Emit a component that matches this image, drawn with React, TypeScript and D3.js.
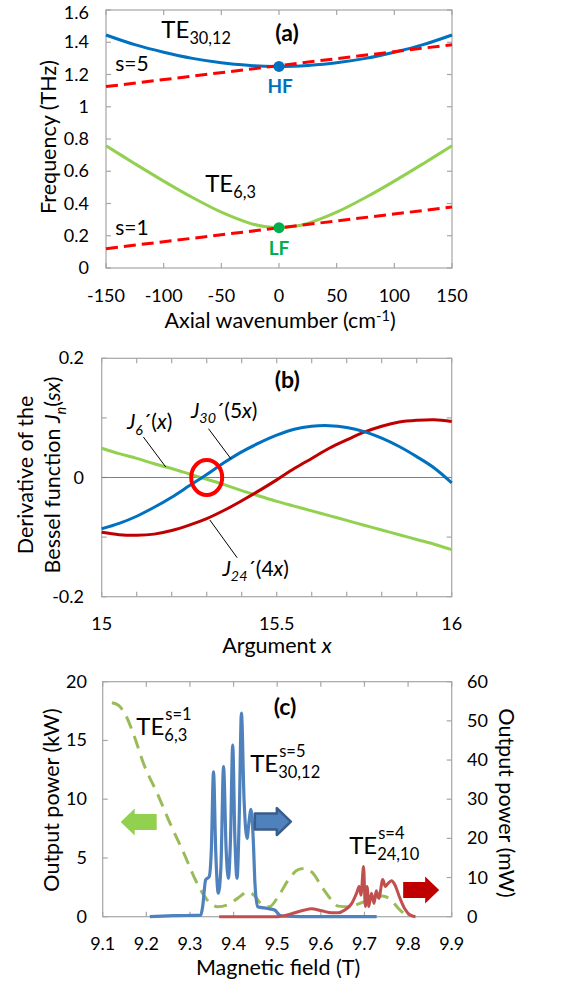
import * as d3 from 'd3';
import { useEffect, useRef } from 'react';

const FONT = 'Lato, "Open Sans", sans-serif';

// (a) dispersion diagram
const wavenumbers = [-150, -125, -100, -75, -50, -25, -12.5, 0, 12.5, 25, 50, 75, 100, 125, 150];
const te3012Freq = [1.445, 1.385, 1.338, 1.3, 1.273, 1.256, 1.251, 1.25, 1.251, 1.256, 1.273, 1.3, 1.338, 1.385, 1.445];
const te63Freq = [0.758, 0.647, 0.539, 0.437, 0.346, 0.277, 0.257, 0.25, 0.257, 0.277, 0.346, 0.437, 0.539, 0.647, 0.758];
const beamK = [-150, 0, 150];
const beamS5 = [1.125, 1.255, 1.385];
const beamS1 = [0.12, 0.249, 0.378];
const freqTicks = [0, 0.2, 0.4, 0.6, 0.8, 1, 1.2, 1.4, 1.6];
const kTicks = [-150, -100, -50, 0, 50, 100, 150];

// (b) Bessel derivatives
const argX = [15, 15.05, 15.1, 15.15, 15.2, 15.25, 15.3, 15.35, 15.4, 15.45, 15.5, 15.55, 15.6, 15.65, 15.7, 15.75, 15.8, 15.85, 15.9, 15.95, 16];
const j6d = [0.049, 0.04, 0.032, 0.023, 0.015, 0.006, -0.003, -0.012, -0.022, -0.031, -0.04, -0.048, -0.056, -0.064, -0.072, -0.08, -0.088, -0.096, -0.104, -0.112, -0.121];
const j30d = [-0.086, -0.077, -0.065, -0.05, -0.033, -0.014, 0.005, 0.025, 0.043, 0.058, 0.071, 0.081, 0.086, 0.087, 0.084, 0.077, 0.066, 0.052, 0.035, 0.016, -0.009];
const j24d = [-0.092, -0.096, -0.097, -0.095, -0.089, -0.08, -0.069, -0.055, -0.039, -0.022, -0.004, 0.015, 0.032, 0.049, 0.063, 0.076, 0.086, 0.093, 0.096, 0.097, 0.094];
const argTicks = [15, 15.1, 15.2, 15.3, 15.4, 15.5, 15.6, 15.7, 15.8, 15.9, 16];
const argLabels = [15, 15.5, 16];
const besselTicks = [-0.2, -0.1, 0, 0.1, 0.2];
const besselLabels = [-0.2, 0, 0.2];

// (c) output power vs magnetic field
const lfField = [9.121, 9.136, 9.152, 9.171, 9.194, 9.225, 9.255, 9.286, 9.317, 9.34, 9.363, 9.386, 9.409, 9.432, 9.448, 9.463, 9.482, 9.502, 9.525, 9.548, 9.563, 9.582, 9.602, 9.625, 9.64, 9.663, 9.694, 9.717, 9.74, 9.759, 9.778, 9.794];
const lfKW = [18.2, 18.0, 17.2, 15.5, 13.0, 10.5, 7.9, 5.4, 2.8, 1.4, 0.85, 1.0, 1.56, 2.1, 1.8, 1.1, 0.85, 1.7, 3.1, 4.0, 4.1, 3.7, 2.55, 1.4, 0.9, 0.85, 1.2, 1.56, 1.76, 1.5, 0.7, 0.14];
const hfField = [9.208, 9.263, 9.325, 9.329, 9.336, 9.344, 9.349, 9.354, 9.359, 9.365, 9.371, 9.377, 9.383, 9.388, 9.393, 9.398, 9.403, 9.408, 9.413, 9.418, 9.424, 9.431, 9.435, 9.44, 9.445, 9.449, 9.455, 9.478, 9.494, 9.509, 9.555, 9.728];
const hfMW = [0, 0.25, 0.4, 2.5, 9.4, 10.2, 17, 37, 17, 6, 12.8, 38.3, 17, 9.8, 20, 43.8, 20, 9.8, 25.5, 52, 30, 20, 23.8, 27.4, 20, 8.5, 2.55, 2.1, 1.7, 0.2, 0, 0];
const s4Field = [9.367, 9.502, 9.517, 9.54, 9.563, 9.578, 9.602, 9.625, 9.64, 9.655, 9.671, 9.682, 9.688, 9.692, 9.698, 9.702, 9.706, 9.71, 9.716, 9.722, 9.727, 9.733, 9.742, 9.748, 9.754, 9.762, 9.77, 9.78, 9.792, 9.805, 9.817];
const s4MW = [0, 0, 0.25, 1.0, 1.7, 2.0, 1.5, 1.0, 1.0, 1.7, 3.4, 6.0, 7.7, 5.5, 12.8, 2.6, 7.7, 2.6, 6.0, 3.4, 6.6, 4.7, 9.5, 7.7, 8.5, 9.2, 8.1, 5.1, 2.1, 0.4, 0];
const fieldTicks = [9.1, 9.2, 9.3, 9.4, 9.5, 9.6, 9.7, 9.8, 9.9];
const kwTicks = [0, 5, 10, 15, 20];
const mwTicks = [0, 10, 20, 30, 40, 50, 60];

type Seg = { t: string; i?: boolean; sub?: boolean; sup?: boolean };

export default function App() {
  const ref = useRef<SVGSVGElement>(null);

  useEffect(() => {
    const svg = d3.select(ref.current);
    svg.selectAll('*').remove();
    const FR = '#a6a6a6';
    const TICK = 18;   // tick label size
    const TITLE = 21.5; // axis title size

    const txt = (x: number, y: number, s: string, size: number, anchor = 'start', weight = 'normal', fill = '#000') =>
      svg.append('text')
        .attr('x', x).attr('y', y)
        .attr('font-family', FONT).attr('font-size', size)
        .attr('text-anchor', anchor).attr('font-weight', weight)
        .attr('fill', fill).text(s);

    const rich = (x: number, y: number, size: number, segs: Seg[], anchor = 'start', rotate = 0) => {
      const t = svg.append('text')
        .attr('transform', `translate(${x},${y}) rotate(${rotate})`)
        .attr('font-family', FONT).attr('font-size', size)
        .attr('text-anchor', anchor);
      let shift = 0;
      segs.forEach(s => {
        const target = s.sub ? size * 0.26 : s.sup ? -size * 0.32 : 0;
        const ts = t.append('tspan').attr('dy', target - shift).text(s.t);
        shift = target;
        if (s.sub || s.sup) ts.attr('font-size', size * 0.68);
        if (s.i) ts.attr('font-style', 'italic');
      });
      return t;
    };

    const frame = (x0: number, x1: number, y0: number, y1: number) =>
      svg.append('rect').attr('x', x0).attr('y', y1).attr('width', x1 - x0).attr('height', y0 - y1)
        .attr('fill', 'none').attr('stroke', FR).attr('stroke-width', 1.2);

    const tickLine = (x1: number, y1: number, x2: number, y2: number) =>
      svg.append('line').attr('x1', x1).attr('y1', y1).attr('x2', x2).attr('y2', y2)
        .attr('stroke', FR).attr('stroke-width', 1.2);

    // ---------- (a) ----------
    const xa = d3.scaleLinear().domain([-150, 150]).range([106, 452]);
    const ya = d3.scaleLinear().domain([0, 1.6]).range([268, 10]);
    frame(106, 452, 268, 10);
    kTicks.forEach(k => {
      tickLine(xa(k), 268, xa(k), 263);
      tickLine(xa(k), 10, xa(k), 15);
      txt(xa(k), 302, String(k), TICK, 'middle');
    });
    freqTicks.forEach(v => {
      tickLine(106, ya(v), 111, ya(v));
      tickLine(452, ya(v), 447, ya(v));
      txt(89, Math.max(ya(v) + 6, 19), String(v), TICK, 'end');
    });
    rich(280, 328, TITLE, [{ t: 'Axial wavenumber (cm' }, { t: '-1', sup: true }, { t: ')' }], 'middle');
    rich(56, 137, TITLE, [{ t: 'Frequency (THz)' }], 'middle', -90);

    const lineA = d3.line<number>().x((_, i) => xa(wavenumbers[i])).curve(d3.curveCatmullRom);
    svg.append('path').attr('d', lineA.y(d => ya(d))(te3012Freq))
      .attr('fill', 'none').attr('stroke', '#0070c0').attr('stroke-width', 3);
    svg.append('path').attr('d', lineA.y(d => ya(d))(te63Freq))
      .attr('fill', 'none').attr('stroke', '#92d050').attr('stroke-width', 3);
    const beamLine = d3.line<number>().x((_, i) => xa(beamK[i])).y(d => ya(d));
    [beamS5, beamS1].forEach(b => {
      svg.append('path').attr('d', beamLine(b)).attr('fill', 'none')
        .attr('stroke', '#ff0000').attr('stroke-width', 3).attr('stroke-dasharray', '12,6');
    });
    svg.append('circle').attr('cx', xa(0)).attr('cy', ya(1.25)).attr('r', 5.5).attr('fill', '#0070c0');
    svg.append('circle').attr('cx', xa(0)).attr('cy', ya(0.25)).attr('r', 5.5).attr('fill', '#00b050');
    txt(xa(1), ya(1.087), 'HF', 19, 'middle', 'bold', '#0070c0');
    txt(xa(0), ya(0.08), 'LF', 19, 'middle', 'bold', '#00b050');
    rich(xa(-102), ya(1.429), 24, [{ t: 'TE' }, { t: '30,12', sub: true }]);
    rich(xa(-64), ya(0.471), 24, [{ t: 'TE' }, { t: '6,3', sub: true }]);
    txt(xa(-142), ya(1.223), 's=5', 21);
    txt(xa(-142), ya(0.204), 's=1', 21);
    txt(xa(7), ya(1.408), '(a)', 23, 'middle', 'bold');

    // ---------- (b) ----------
    const xb = d3.scaleLinear().domain([15, 16]).range([101.7, 451.7]);
    const yb = d3.scaleLinear().domain([-0.2, 0.2]).range([596.7, 358.3]);
    frame(101.7, 451.7, 596.7, 358.3);
    argTicks.forEach(a => {
      tickLine(xb(a), 596.7, xb(a), 591.7);
      tickLine(xb(a), 358.3, xb(a), 363.3);
    });
    argLabels.forEach(a => txt(xb(a), 630, String(a), TICK, 'middle'));
    besselTicks.forEach(v => {
      tickLine(101.7, yb(v), 106.7, yb(v));
      tickLine(451.7, yb(v), 446.7, yb(v));
    });
    besselLabels.forEach(v => txt(84, yb(v) + 6, String(v), TICK, 'end'));
    svg.append('line').attr('x1', xb(15)).attr('x2', xb(16)).attr('y1', yb(0)).attr('y2', yb(0))
      .attr('stroke', '#808080').attr('stroke-width', 1.2);
    rich(277, 653, TITLE, [{ t: 'Argument ' }, { t: 'x', i: true }], 'middle');
    rich(33, 475, TITLE, [{ t: 'Derivative of the' }], 'middle', -90);
    rich(60, 475, TITLE, [{ t: 'Bessel function ' }, { t: 'J', i: true }, { t: 'n', i: true, sub: true }, { t: '(' }, { t: 'sx', i: true }, { t: ')' }], 'middle', -90);

    const lineB = d3.line<number>().x((_, i) => xb(argX[i])).y(d => yb(d)).curve(d3.curveCatmullRom);
    svg.append('path').attr('d', lineB(j6d)).attr('fill', 'none').attr('stroke', '#92d050').attr('stroke-width', 3);
    svg.append('path').attr('d', lineB(j24d)).attr('fill', 'none').attr('stroke', '#c00000').attr('stroke-width', 3);
    svg.append('path').attr('d', lineB(j30d)).attr('fill', 'none').attr('stroke', '#0070c0').attr('stroke-width', 3);

    const leaders = [
      [15.119, 0.068, 15.183, 0.0176],
      [15.305, 0.082, 15.369, 0.0315],
      [15.309, -0.0713, 15.387, -0.1346],
    ];
    leaders.forEach(([a1, v1, a2, v2]) =>
      svg.append('line').attr('x1', xb(a1)).attr('y1', yb(v1)).attr('x2', xb(a2)).attr('y2', yb(v2))
        .attr('stroke', '#000').attr('stroke-width', 1));
    svg.append('ellipse').attr('cx', xb(15.3)).attr('cy', yb(0)).attr('rx', 15.5).attr('ry', 17.5)
      .attr('fill', 'none').attr('stroke', '#ff0000').attr('stroke-width', 4);

    rich(xb(15.072), yb(0.081), 21, [{ t: 'J', i: true }, { t: '6', i: true, sub: true }, { t: '´(' }, { t: 'x', i: true }, { t: ')' }]);
    rich(xb(15.255), yb(0.1), 21, [{ t: 'J', i: true }, { t: '30', i: true, sub: true }, { t: '´(5' }, { t: 'x', i: true }, { t: ')' }]);
    rich(xb(15.345), yb(-0.165), 21, [{ t: 'J', i: true }, { t: '24', i: true, sub: true }, { t: '´(4' }, { t: 'x', i: true }, { t: ')' }]);
    txt(xb(15.53), yb(0.15), '(b)', 23, 'middle', 'bold');

    // ---------- (c) ----------
    const xc = d3.scaleLinear().domain([9.1, 9.9]).range([102.7, 451.7]);
    const ycL = d3.scaleLinear().domain([0, 20]).range([916.7, 681.7]);
    const ycR = d3.scaleLinear().domain([0, 60]).range([916.7, 681.7]);
    frame(102.7, 451.7, 916.7, 681.7);
    fieldTicks.forEach(b => {
      tickLine(xc(b), 916.7, xc(b), 911.7);
      tickLine(xc(b), 681.7, xc(b), 686.7);
      txt(xc(b), 950, b.toFixed(1), TICK, 'middle');
    });
    kwTicks.forEach(v => {
      tickLine(102.7, ycL(v), 107.7, ycL(v));
      txt(87, ycL(v) + 6, String(v), TICK, 'end');
    });
    mwTicks.forEach(v => {
      tickLine(451.7, ycR(v), 446.7, ycR(v));
      txt(467, ycR(v) + 6, String(v), TICK, 'start');
    });
    rich(278, 975, TITLE, [{ t: 'Magnetic field (T)' }], 'middle');
    rich(59, 800, TITLE, [{ t: 'Output power  (kW)' }], 'middle', -90);
    rich(499, 803, TITLE, [{ t: 'Output power (mW)' }], 'middle', 90);

    svg.append('path')
      .attr('d', d3.line<number>().x((_, i) => xc(lfField[i])).y(d => ycL(d)).curve(d3.curveMonotoneX)(lfKW))
      .attr('fill', 'none').attr('stroke', '#9bbb59').attr('stroke-width', 3).attr('stroke-dasharray', '13,8');
    svg.append('path')
      .attr('d', d3.line<number>().x((_, i) => xc(hfField[i])).y(d => ycR(d)).curve(d3.curveMonotoneX)(hfMW))
      .attr('fill', 'none').attr('stroke', '#4f81bd').attr('stroke-width', 3.2).attr('stroke-linejoin', 'round');
    svg.append('path')
      .attr('d', d3.line<number>().x((_, i) => xc(s4Field[i])).y(d => ycR(d)).curve(d3.curveMonotoneX)(s4MW))
      .attr('fill', 'none').attr('stroke', '#c0504d').attr('stroke-width', 3).attr('stroke-linejoin', 'round');

    const arrow = (cx: number, cy: number, dir: number, fill: string, stroke: string) => {
      const w = 36, h = 27, sh = 16, hl = 14;
      const pts = [
        [w / 2, 0], [w / 2 - hl, -h / 2], [w / 2 - hl, -sh / 2], [-w / 2, -sh / 2],
        [-w / 2, sh / 2], [w / 2 - hl, sh / 2], [w / 2 - hl, h / 2],
      ].map(([px, py]) => [cx + dir * px, cy + py]);
      svg.append('path').attr('d', 'M' + pts.map(p => p.join(',')).join('L') + 'Z')
        .attr('fill', fill).attr('stroke', stroke).attr('stroke-width', stroke === 'none' ? 0 : 2.5)
        .attr('stroke-linejoin', 'round');
    };
    arrow(xc(9.1825), ycL(8.06), -1, '#92d050', 'none');
    arrow(xc(9.49), ycL(8.1), 1, '#4f81bd', '#385d8a');
    arrow(xc(9.83), ycL(2.28), 1, '#c00000', 'none');

    const stacked = (b: number, kw: number, sup: string, sub: string) => {
      const x = xc(b), y = ycL(kw);
      const te = txt(x, y, 'TE', 24);
      const w = (te.node() as SVGTextElement).getComputedTextLength();
      txt(x + w + 1, y - 15, sup, 16.5);
      txt(x + w, y + 6, sub, 16.5);
    };
    stacked(9.177, 15.46, 's=1', '6,3');
    stacked(9.438, 12.34, 's=5', '30,12');
    stacked(9.665, 5.34, 's=4', '24,10');
    txt(xc(9.518), ycL(17.2), '(c)', 23, 'middle', 'bold');

    return () => { svg.selectAll('*').remove(); };
  }, []);

  return (
    <svg ref={ref} width={565} height={984}
      style={{ position: 'absolute', left: 0, top: 0, background: '#fff' }} />
  );
}
